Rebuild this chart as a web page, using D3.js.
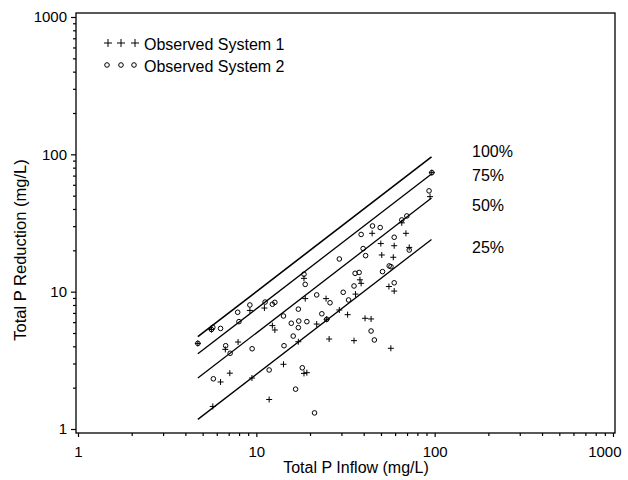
<!DOCTYPE html>
<html>
<head>
<meta charset="utf-8">
<script src="https://cdn.jsdelivr.net/npm/d3@7"></script>
<style>
  body { margin: 0; background: #fff; }
  svg text { font-family: "Liberation Sans", Arial, sans-serif; fill: #000; }
</style>
</head>
<body>
<svg id="chart"></svg>
<script>
const width = 628;
const height = 480;

// Observed System 1 (plus markers): [inflow, reduction]
const system1 = [
  [4.7, 4.2], [5.6, 5.3], [9.2, 7.3], [6.7, 3.8], [7.9, 4.3],
  [5.7, 1.46], [6.3, 2.2], [7.1, 2.55], [9.45, 2.35], [11.1, 7.6],
  [18.5, 12.5], [18.8, 8.9], [24.6, 8.9], [12.3, 5.66], [12.7, 5.26],
  [17.2, 4.32], [21.8, 5.81], [24.8, 6.3], [25.6, 4.52], [14.2, 2.96],
  [11.8, 1.64], [18.5, 2.54], [19.2, 2.57], [29.2, 7.36], [32.5, 6.8],
  [38.1, 12.2], [38.7, 11.5], [40.7, 6.4], [44.0, 6.33], [35.3, 4.4],
  [56.8, 3.87], [55.4, 10.9], [59.3, 10.1], [36.0, 9.6], [44.6, 26.6],
  [49.9, 22.4], [59.3, 21.6], [50.5, 18.5], [58.6, 17.8], [69.0, 26.6],
  [72.0, 21.0], [65.4, 31.7], [94.2, 49.2], [96.4, 73.6]
];

// Observed System 2 (circle markers)
const system2 = [
  [4.7, 4.2], [5.6, 5.3], [5.7, 5.5], [6.3, 5.4], [7.86, 7.08],
  [9.2, 8.0], [7.99, 6.05], [6.73, 4.04], [7.13, 3.56], [9.47, 3.84],
  [5.74, 2.32], [11.2, 8.4], [12.3, 8.1], [12.7, 8.36], [18.5, 13.4],
  [18.8, 11.3], [14.2, 6.65], [17.2, 7.46], [21.8, 9.47], [25.9, 8.3],
  [15.7, 5.89], [17.3, 6.11], [19.2, 6.05], [17.2, 5.47], [16.1, 4.75],
  [14.3, 4.04], [23.3, 6.9], [24.8, 6.29], [11.8, 2.69], [18.1, 2.79],
  [16.6, 1.95], [21.2, 1.31], [30.7, 9.9], [32.9, 8.7], [35.3, 11.0],
  [35.8, 13.6], [37.7, 13.8], [44.0, 5.17], [45.9, 4.45], [51.0, 14.0],
  [55.6, 15.4], [56.9, 15.2], [59.3, 11.6], [29.2, 17.3], [38.7, 26.1],
  [44.8, 30.1], [49.5, 29.3], [39.7, 20.6], [41.0, 18.3], [59.3, 24.9],
  [72.0, 20.1], [65.4, 33.3], [69.8, 35.6], [96.4, 73.6], [93.0, 54.2]
];

// reference lines: fraction of inflow removed
const reductionLevels = [1.0, 0.75, 0.5, 0.25];
const levelLabels = ["100%", "75%", "50%", "25%"];
const lineRange = [4.7, 96];

const majorTicks = [1, 10, 100, 1000];
const minorTicks = [2, 3, 4, 5, 6, 7, 8, 9, 20, 30, 40, 50, 60, 70, 80, 90,
  200, 300, 400, 500, 600, 700, 800, 900];

const legendItems = ["Observed System 1", "Observed System 2"];

const svg = d3.select("#chart")
  .attr("width", width)
  .attr("height", height);

const frame = { left: 76, right: 615, top: 13, bottom: 433 };

const x = d3.scaleLog().domain([1, 1000]).range([78, 613]);
const y = d3.scaleLog().domain([1, 1000]).range([429, 17]);

// axes
const xMajor = d3.axisBottom(x).tickValues(majorTicks).tickFormat(d3.format("d"))
  .tickSizeInner(4).tickSizeOuter(0).tickPadding(9);
const xMinor = d3.axisBottom(x).tickValues(minorTicks).tickFormat("")
  .tickSizeInner(3).tickSizeOuter(0);
const yMajor = d3.axisLeft(y).tickValues(majorTicks).tickFormat(d3.format("d"))
  .tickSizeInner(5).tickSizeOuter(0).tickPadding(4);
const yMinor = d3.axisLeft(y).tickValues(minorTicks).tickFormat("")
  .tickSizeInner(3).tickSizeOuter(0);

function styleAxis(g) {
  g.select(".domain").remove();
  g.selectAll("line").attr("stroke", "#000").attr("stroke-width", 1.2);
  g.selectAll("text").style("font-size", "15px")
    .style("font-family", '"Liberation Sans", Arial, sans-serif');
}

const gx = svg.append("g").attr("transform", `translate(0,${frame.bottom})`).call(xMajor).call(styleAxis);
// last label sits against the right edge, as in the original
gx.selectAll(".tick").filter(d => d === 1000).select("text")
  .attr("text-anchor", "end").attr("x", 8);
svg.append("g").attr("transform", `translate(0,${frame.bottom})`).call(xMinor).call(styleAxis);
svg.append("g").attr("transform", `translate(${frame.left},0)`).call(yMajor).call(styleAxis);
svg.append("g").attr("transform", `translate(${frame.left},0)`).call(yMinor).call(styleAxis);

// frame
svg.append("rect")
  .attr("x", frame.left).attr("y", frame.top)
  .attr("width", frame.right - frame.left)
  .attr("height", frame.bottom - frame.top)
  .attr("fill", "none").attr("stroke", "#000").attr("stroke-width", 1.3);

// reduction lines
const line = d3.line().x(d => x(d[0])).y(d => y(d[1]));
svg.append("g").selectAll("path")
  .data(reductionLevels)
  .join("path")
  .attr("d", k => line(lineRange.map(v => [v, v * k])))
  .attr("fill", "none")
  .attr("stroke", "#000")
  .attr("stroke-width", (k, i) => i === 0 ? 1.6 : 1.3);

const labelY = [151, 175.5, 205, 247.5];
svg.append("g").selectAll("text")
  .data(levelLabels)
  .join("text")
  .attr("x", 472)
  .attr("y", (d, i) => labelY[i])
  .attr("dominant-baseline", "central")
  .style("font-size", "16px")
  .text(d => d);

// markers
const plusPath = (cx, cy, s) => `M${cx - s},${cy}H${cx + s}M${cx},${cy - s}V${cy + s}`;

svg.append("g").selectAll("circle")
  .data(system2)
  .join("circle")
  .attr("cx", d => x(d[0]))
  .attr("cy", d => y(d[1]))
  .attr("r", 2.3)
  .attr("fill", "none")
  .attr("stroke", "#000")
  .attr("stroke-width", 1);

svg.append("g").selectAll("path")
  .data(system1)
  .join("path")
  .attr("d", d => plusPath(x(d[0]), y(d[1]), 3))
  .attr("stroke", "#000")
  .attr("stroke-width", 1);

// legend
const legend = svg.append("g");
[108, 121, 135].forEach(px => {
  legend.append("path").attr("d", plusPath(px, 43, 4))
    .attr("stroke", "#000").attr("stroke-width", 1);
});
[107, 121, 134].forEach(px => {
  legend.append("circle").attr("cx", px).attr("cy", 65).attr("r", 2.3)
    .attr("fill", "none").attr("stroke", "#000").attr("stroke-width", 1);
});
legend.selectAll("text")
  .data(legendItems)
  .join("text")
  .attr("x", 144)
  .attr("y", (d, i) => 44 + i * 22)
  .attr("dominant-baseline", "central")
  .style("font-size", "16px")
  .text(d => d);

// axis titles
svg.append("text")
  .attr("x", 356).attr("y", 473)
  .attr("text-anchor", "middle")
  .style("font-size", "16px")
  .text("Total P Inflow (mg/L)");

svg.append("text")
  .attr("transform", "translate(26,250) rotate(-90)")
  .attr("text-anchor", "middle")
  .style("font-size", "16.5px")
  .text("Total P Reduction (mg/L)");
</script>
</body>
</html>
